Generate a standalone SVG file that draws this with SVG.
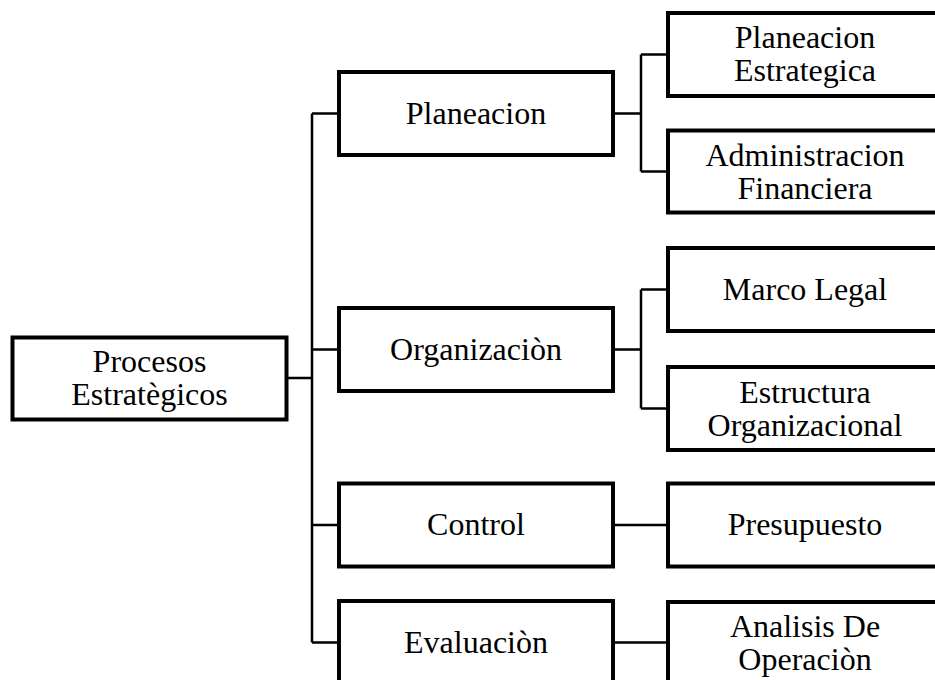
<svg xmlns="http://www.w3.org/2000/svg" width="935" height="680" viewBox="0 0 935 680">
  <style>
    .box { fill: #ffffff; stroke: #000000; stroke-width: 4; }
    .lbl { font-family: "Liberation Serif", "Times New Roman", serif; font-size: 32px; fill: #000000; text-anchor: middle; }
    .wire { fill: none; stroke: #000000; stroke-width: 2.5; }
  </style>
  <rect width="935" height="680" fill="#ffffff"/>

  <!-- connectors -->
  <g id="connectors">
    <!-- root to second level -->
    <path class="wire" d="M286.5 378 H312 M312 113.5 V642.5 M312 113.5 H339 M312 349.5 H339 M312 525 H339 M312 642.5 H339"/>
    <!-- Planeacion branch -->
    <path class="wire" d="M613 113.5 H641 M641 54.5 V171.5 M641 54.5 H668 M641 171.5 H668"/>
    <!-- Organizacion branch -->
    <path class="wire" d="M613 349.5 H641 M641 289.5 V408.5 M641 289.5 H668 M641 408.5 H668"/>
    <!-- Control and Evaluacion -->
    <path class="wire" d="M613 525 H668 M613 642.5 H668"/>
  </g>

  <g id="procesos">
    <rect class="box" x="12.5" y="337.5" width="274" height="82"/>
    <text class="lbl" x="149.5" y="372">Procesos</text>
    <text class="lbl" x="149.5" y="405">Estratègicos</text>
  </g>

  <g id="planeacion">
    <rect class="box" x="339" y="72" width="274" height="83"/>
    <text class="lbl" x="476" y="123.5">Planeacion</text>
  </g>
  <g id="organizacion">
    <rect class="box" x="339" y="308" width="274" height="83"/>
    <text class="lbl" x="476" y="359.5">Organizaciòn</text>
  </g>
  <g id="control">
    <rect class="box" x="339" y="483.5" width="274" height="83"/>
    <text class="lbl" x="476" y="535">Control</text>
  </g>
  <g id="evaluacion">
    <rect class="box" x="339" y="601" width="274" height="83"/>
    <text class="lbl" x="476" y="652.5">Evaluaciòn</text>
  </g>

  <g id="planeacion-estrategica">
    <rect class="box" x="668" y="13" width="274" height="83"/>
    <text class="lbl" x="805" y="48">Planeacion</text>
    <text class="lbl" x="805" y="81">Estrategica</text>
  </g>
  <g id="administracion-financiera">
    <rect class="box" x="668" y="130.5" width="274" height="82"/>
    <text class="lbl" x="805" y="166">Administracion</text>
    <text class="lbl" x="805" y="199">Financiera</text>
  </g>
  <g id="marco-legal">
    <rect class="box" x="668" y="248" width="274" height="83"/>
    <text class="lbl" x="805" y="299.5">Marco Legal</text>
  </g>
  <g id="estructura-organizacional">
    <rect class="box" x="668" y="367" width="274" height="83"/>
    <text class="lbl" x="805" y="402.5">Estructura</text>
    <text class="lbl" x="805" y="435.5">Organizacional</text>
  </g>
  <g id="presupuesto">
    <rect class="box" x="668" y="483.5" width="274" height="83"/>
    <text class="lbl" x="805" y="535">Presupuesto</text>
  </g>
  <g id="analisis-operacion">
    <rect class="box" x="668" y="602" width="274" height="83"/>
    <text class="lbl" x="805" y="637">Analisis De</text>
    <text class="lbl" x="805" y="670">Operaciòn</text>
  </g>
</svg>
